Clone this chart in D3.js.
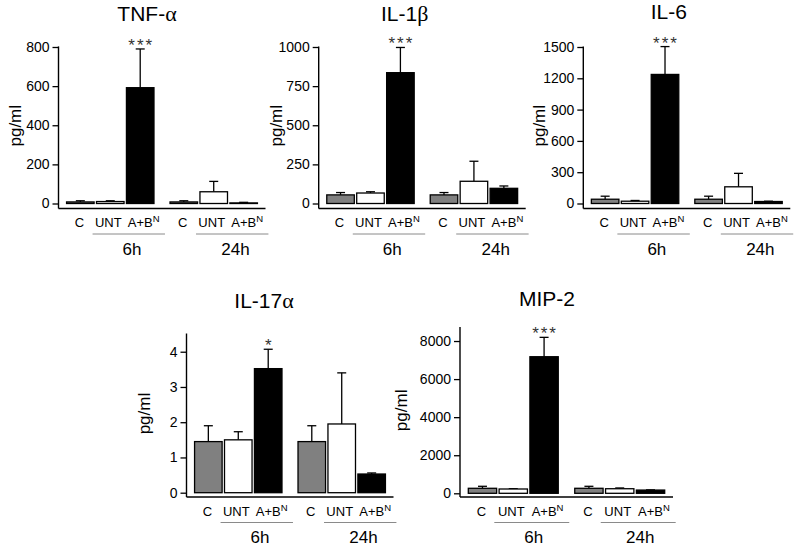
<!DOCTYPE html>
<html>
<head>
<meta charset="utf-8">
<script src="https://cdn.jsdelivr.net/npm/d3@7"></script>
<style>
  body { margin: 0; background: #fff; }
  svg { font-family: "Liberation Sans", Arial, sans-serif; }
</style>
</head>
<body>
<div id="chart"></div>
<script>
// bar order in every panel: 6h C, 6h UNT, 6h A+B, 24h C, 24h UNT, 24h A+B
const times = ["6h", "24h"];
const treatments = ["C", "UNT", "A+B"];
const titles = [["TNF-", "α"], ["IL-1", "β"], ["IL-6", ""], ["IL-17", "α"], ["MIP-2", ""]];

const tnfMean = [8, 10, 592, 8, 60, 3];
const tnfSem = [6, 4, 198, 6, 53, 3];
const il1Mean = [55, 67, 836, 55, 142, 97];
const il1Sem = [15, 8, 161, 15, 128, 15];
const il6Mean = [41, 22, 1237, 41, 160, 19];
const il6Sem = [29, 7, 267, 29, 129, 3];
const il17Mean = [1.45, 1.5, 3.52, 1.45, 1.95, 0.53];
const il17Sem = [0.45, 0.23, 0.55, 0.45, 1.45, 0.03];
const mipMean = [263, 226, 7175, 263, 240, 170];
const mipSem = [105, 14, 1018, 105, 40, 10];

const tnfTicks = [0, 200, 400, 600, 800];
const il1Ticks = [0, 250, 500, 750, 1000];
const il6Ticks = [0, 300, 600, 900, 1200, 1500];
const il17Ticks = [0, 1, 2, 3, 4];
const mipTicks = [0, 2000, 4000, 6000, 8000];
const yMax = [800, 1000, 1500, 4.5, 8700];

// significance marks sit on the 6h A+B bar
const stars = ["***", "***", "***", "*", "***"];

const means = [tnfMean, il1Mean, il6Mean, il17Mean, mipMean];
const sems = [tnfSem, il1Sem, il6Sem, il17Sem, mipSem];
const ticks = [tnfTicks, il1Ticks, il6Ticks, il17Ticks, mipTicks];

// where each panel goes (px)
const panels = [
  { x: 58.5, top: 47, zero: 203.5, base: 208.5, width: 207, titleDx: 88.5, titleY: 21, labelDx: -43.5 },
  { x: 318.7, top: 47, zero: 203.5, base: 208.5, width: 207, titleDx: 86, titleY: 20.5, labelDx: -43 },
  { x: 583.3, top: 47, zero: 203.5, base: 208.5, width: 207, titleDx: 85.5, titleY: 18.5, labelDx: -44 },
  { x: 186.5, top: 334.1, zero: 492.7, base: 497, width: 207, titleDx: 77.5, titleY: 308, labelDx: -42.5 },
  { x: 460, top: 327.7, zero: 493.3, base: 497, width: 213, titleDx: 87, titleY: 306, labelDx: -59 }
];

const fills = { "C": "#808080", "UNT": "#ffffff", "A+B": "#000000" };

const svg = d3.select("#chart")
  .append("svg")
  .attr("width", 800)
  .attr("height", 550);

panels.forEach((p, k) => drawPanel(p, k));

function drawPanel(p, k) {
  const g = svg.append("g").attr("transform", "translate(" + p.x + ",0)");

  const y = d3.scaleLinear().domain([0, yMax[k]]).range([p.zero, p.top]);

  const outer = d3.scaleBand()
    .domain(times)
    .range([0, p.width])
    .paddingInner(0.155)
    .paddingOuter(0.078);

  const inner = d3.scaleBand()
    .domain(treatments)
    .range([0, outer.bandwidth()])
    .paddingInner(0.08);

  const rows = [];
  times.forEach((t, i) => treatments.forEach((c, j) => {
    const n = i * 3 + j;
    rows.push({ time: t, treat: c, mean: means[k][n], sem: sems[k][n] });
  }));
  const cx = d => outer(d.time) + inner(d.treat) + inner.bandwidth() / 2;

  // y axis
  const yAxis = g.append("g")
    .call(d3.axisLeft(y).tickValues(ticks[k]).tickFormat(d => String(d))
      .tickSize(6).tickSizeOuter(0).tickPadding(3));
  yAxis.select(".domain").remove();
  yAxis.selectAll(".tick line").attr("stroke", "#000").attr("stroke-width", 1.3);
  yAxis.selectAll(".tick text")
    .attr("fill", "#000")
    .style("font-size", "14px")
    .style("font-family", "'Liberation Sans', Arial, sans-serif");

  g.append("line")
    .attr("x1", 0).attr("x2", 0)
    .attr("y1", p.top - 0.6).attr("y2", p.base)
    .attr("stroke", "#000").attr("stroke-width", 1.4);

  // x axis line
  g.append("line")
    .attr("x1", 0).attr("x2", p.width)
    .attr("y1", p.base).attr("y2", p.base)
    .attr("stroke", "#000").attr("stroke-width", 1.4);

  // error bars (upper only)
  const err = g.selectAll(".err").data(rows).enter().append("g");
  err.append("line")
    .attr("x1", cx).attr("x2", cx)
    .attr("y1", d => y(d.mean)).attr("y2", d => y(d.mean + d.sem))
    .attr("stroke", "#000").attr("stroke-width", 1.3);
  err.append("line")
    .attr("x1", d => cx(d) - 4.5).attr("x2", d => cx(d) + 4.5)
    .attr("y1", d => y(d.mean + d.sem)).attr("y2", d => y(d.mean + d.sem))
    .attr("stroke", "#000").attr("stroke-width", 1.3);

  // bars
  g.selectAll(".bar").data(rows).enter().append("rect")
    .attr("x", d => outer(d.time) + inner(d.treat))
    .attr("y", d => y(d.mean))
    .attr("width", inner.bandwidth())
    .attr("height", d => y(0) - y(d.mean))
    .attr("fill", d => fills[d.treat])
    .attr("stroke", "#000")
    .attr("stroke-width", 1.3);

  // significance
  const sig = rows[2];
  g.append("text")
    .attr("x", cx(sig) + 1)
    .attr("y", y(sig.mean + sig.sem) + 2)
    .attr("text-anchor", "middle")
    .attr("fill", "#333")
    .style("font-size", "17px")
    .style("letter-spacing", "2px")
    .text(stars[k]);

  // treatment labels
  const shift = { "C": -1, "UNT": -2, "A+B": 3.5 };
  const lab = g.selectAll(".lab").data(rows).enter().append("text")
    .attr("x", d => cx(d) + shift[d.treat])
    .attr("y", p.base + 18.5)
    .attr("text-anchor", "middle")
    .style("font-size", "13px");
  lab.append("tspan").text(d => d.treat);
  lab.filter(d => d.treat === "A+B").append("tspan")
    .attr("dy", -5)
    .style("font-size", "9.5px")
    .text("N");

  // time groups
  const grp = g.selectAll(".grp").data(times).enter().append("g");
  grp.append("line")
    .attr("x1", d => outer(d) + 26)
    .attr("x2", d => outer(d) + outer.bandwidth() + 11)
    .attr("y1", p.base + 25.5).attr("y2", p.base + 25.5)
    .attr("stroke", "#8a8a8a").attr("stroke-width", 1);
  grp.append("text")
    .attr("x", d => outer(d) + 65.5)
    .attr("y", p.base + 46)
    .attr("text-anchor", "middle")
    .style("font-size", "17px")
    .text(d => d);

  // y label
  const my = (p.top + p.base) / 2 - 2;
  g.append("text")
    .attr("transform", "translate(" + p.labelDx + "," + my + ") rotate(-90)")
    .attr("text-anchor", "middle")
    .attr("dy", "0.35em")
    .style("font-size", "17px")
    .text("pg/ml");

  // title
  const t = g.append("text")
    .attr("x", p.titleDx)
    .attr("y", p.titleY)
    .attr("text-anchor", "middle")
    .style("font-size", "21px");
  t.append("tspan").text(titles[k][0]);
  if (titles[k][1]) {
    t.append("tspan")
      .style("font-family", "'Liberation Serif', serif")
      .style("font-size", "22px")
      .text(titles[k][1]);
  }
}
</script>
</body>
</html>
